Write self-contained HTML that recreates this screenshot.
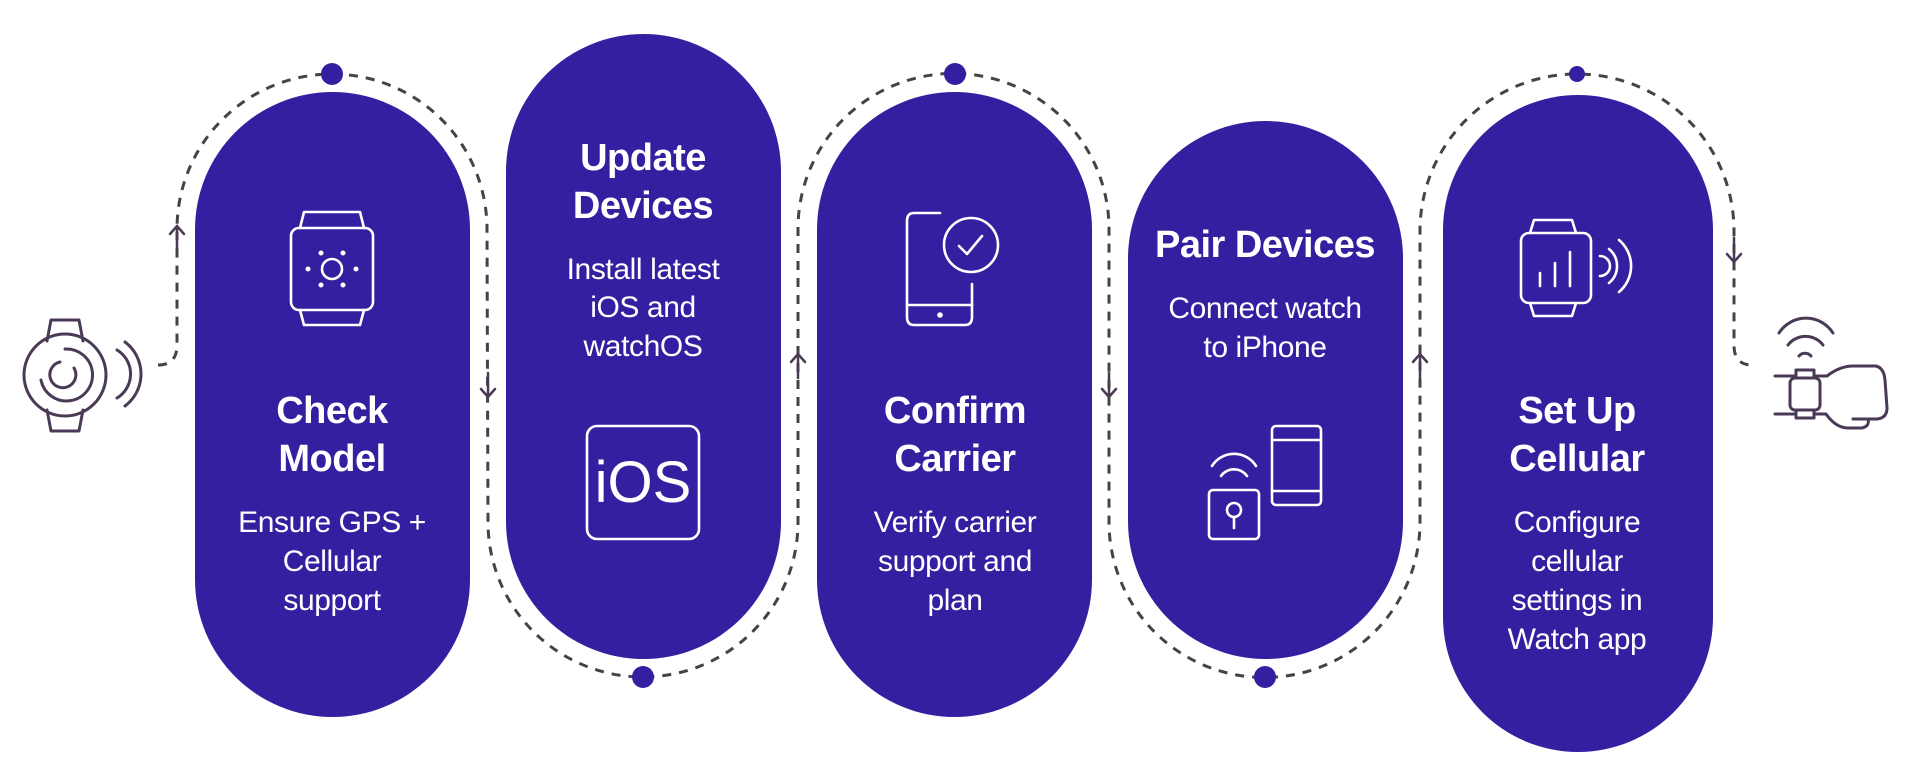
<!DOCTYPE html>
<html><head><meta charset="utf-8"><style>
html,body{margin:0;padding:0;background:#fff;}
svg{display:block;}
.t{font-family:"Liberation Sans",sans-serif;font-weight:bold;font-size:38px;fill:#fff;text-anchor:middle;letter-spacing:-0.5px}
.d{font-family:"Liberation Sans",sans-serif;font-size:30px;fill:#fff;text-anchor:middle;letter-spacing:-0.4px}
.ic{fill:none;stroke:#fff;stroke-width:2.6;stroke-linecap:round;stroke-linejoin:round}
.dk{fill:none;stroke:#4a3a55;stroke-width:3;stroke-linecap:round;stroke-linejoin:round}
</style></head><body>
<svg width="1921" height="784" viewBox="0 0 1921 784" xmlns="http://www.w3.org/2000/svg">
<path d="M158,365 Q177,365 177,345 L177,229 A155,155 0 0 1 487,229 L488,522 A155,155 0 0 0 798,522 L798,229 A155,155 0 0 1 1109,229 L1109,522 A155,155 0 0 0 1420,522 L1420,231 A157,157 0 0 1 1734,231 L1734,345 Q1734,365 1752,365" fill="none" stroke="#444" stroke-width="3" stroke-dasharray="9,8"/>
<g fill="none" stroke="#4a3a55" stroke-width="2.5" stroke-linecap="round">
<path d="M177,250 L177,226 M170,234 L177,226 L184,234"/>
<path d="M488,373 L488,397 M481,389 L488,397 L495,389"/>
<path d="M798,378 L798,354 M791,362 L798,354 L805,362"/>
<path d="M1109,373 L1109,397 M1102,389 L1109,397 L1116,389"/>
<path d="M1420,378 L1420,354 M1413,362 L1420,354 L1427,362"/>
<path d="M1734,238 L1734,262 M1727,254 L1734,262 L1741,254"/>
</g>
<g fill="#3320a0">
<rect x="195" y="92" width="275" height="625" rx="137.5"/>
<rect x="506" y="34" width="275" height="625" rx="137.5"/>
<rect x="817" y="92" width="275" height="625" rx="137.5"/>
<rect x="1128" y="121" width="275" height="538" rx="137.5"/>
<rect x="1443" y="95" width="270" height="657" rx="135"/>
<circle cx="332" cy="74" r="11"/>
<circle cx="643" cy="677" r="11"/>
<circle cx="955" cy="74" r="11"/>
<circle cx="1265" cy="677" r="11"/>
<circle cx="1577" cy="74" r="8"/>
</g>
<g class="dk">
<path d="M47,341 L51,320 L79,320 L83,341"/>
<path d="M47,410 L51,431 L79,431 L83,410"/>
<circle cx="65" cy="375" r="41"/>
<path d="M65,349 A26,26 0 1 1 41,380"/>
<path d="M60,362 A13,13 0 1 0 74,368"/>
<path d="M117,350 A28,28 0 0 1 117,398"/>
<path d="M125,342 A40,40 0 0 1 125,406"/>
</g>
<g class="dk">
<path d="M1779,333 A32,32 0 0 1 1833,333"/>
<path d="M1788,345 A22,22 0 0 1 1823,345"/>
<path d="M1799,356 A8,8 0 0 1 1811,356"/>
<rect x="1790" y="378" width="30" height="32" rx="5"/>
<rect x="1796" y="370" width="18" height="8"/>
<rect x="1796" y="410" width="18" height="8"/>
<path d="M1775,376 L1796,376 M1814,376 L1827,376 Q1840,366 1853,366 L1876,366 Q1884,368 1885,380 L1887,408 Q1887,418 1877,419 L1853,419"/>
<path d="M1775,414 L1796,414 M1814,414 L1826,414 Q1836,428 1848,428 L1862,428 Q1870,426 1868,419"/>
</g>
<g class="ic">
<rect x="291" y="228" width="82" height="82" rx="8"/>
<path d="M300,228 L304,212 L360,212 L364,228 M300,310 L304,325 L360,325 L364,310"/>
<circle cx="332" cy="269" r="10"/>
</g>
<g fill="#fff"><circle cx="321" cy="253" r="2.5"/><circle cx="343" cy="253" r="2.5"/><circle cx="321" cy="285" r="2.5"/><circle cx="343" cy="285" r="2.5"/><circle cx="308" cy="269" r="2.5"/><circle cx="356" cy="269" r="2.5"/></g>
<text class="t" x="332" y="423">Check</text>
<text class="t" x="332" y="471">Model</text>
<text class="d" x="332" y="532">Ensure GPS +</text>
<text class="d" x="332" y="571">Cellular</text>
<text class="d" x="332" y="610">support</text>
<text class="t" x="643" y="170">Update</text>
<text class="t" x="643" y="218">Devices</text>
<text class="d" x="643" y="279">Install latest</text>
<text class="d" x="643" y="317">iOS and</text>
<text class="d" x="643" y="356">watchOS</text>
<rect class="ic" x="587" y="426" width="112" height="113" rx="10"/>
<text x="643" y="502" font-family="Liberation Sans,sans-serif" font-size="58" fill="#fff" text-anchor="middle" style="font-weight:300">iOS</text>
<g class="ic">
<path d="M940,213 L914,213 Q907,213 907,221 L907,317 Q907,325 914,325 L965,325 Q972,325 972,317 L972,284"/>
<path d="M907,305 L972,305"/>
<circle cx="971" cy="245" r="27"/>
<path d="M959,246 L967,254 L982,236"/>
</g>
<circle cx="940" cy="315" r="2.8" fill="#fff"/>
<text class="t" x="955" y="423">Confirm</text>
<text class="t" x="955" y="471">Carrier</text>
<text class="d" x="955" y="532">Verify carrier</text>
<text class="d" x="955" y="571">support and</text>
<text class="d" x="955" y="610">plan</text>
<text class="t" x="1265" y="257">Pair Devices</text>
<text class="d" x="1265" y="318">Connect watch</text>
<text class="d" x="1265" y="357">to iPhone</text>
<g class="ic">
<rect x="1272" y="426" width="49" height="79" rx="4"/>
<path d="M1272,440 L1321,440 M1272,491 L1321,491"/>
<rect x="1209" y="490" width="50" height="49" rx="4"/>
<circle cx="1234" cy="510" r="7"/>
<path d="M1234,517 L1234,528"/>
<path d="M1212,466 A26,26 0 0 1 1256,466"/>
<path d="M1221,476 A16,16 0 0 1 1247,476"/>
</g>
<g class="ic">
<rect x="1521" y="233" width="70" height="70" rx="8"/>
<path d="M1530,233 L1534,220 L1572,220 L1576,233 M1530,303 L1534,316 L1572,316 L1576,303"/>
<path d="M1540,286 L1540,273 M1555,286 L1555,263 M1570,286 L1570,252"/>
<path d="M1600,256 A10,10 0 0 1 1600,276"/>
<path d="M1609,249 A22,22 0 0 1 1609,283"/>
<path d="M1619,240 A34,34 0 0 1 1619,292"/>
</g>
<text class="t" x="1577" y="423">Set Up</text>
<text class="t" x="1577" y="471">Cellular</text>
<text class="d" x="1577" y="532">Configure</text>
<text class="d" x="1577" y="571">cellular</text>
<text class="d" x="1577" y="610">settings in</text>
<text class="d" x="1577" y="649">Watch app</text>
</svg>
</body></html>
